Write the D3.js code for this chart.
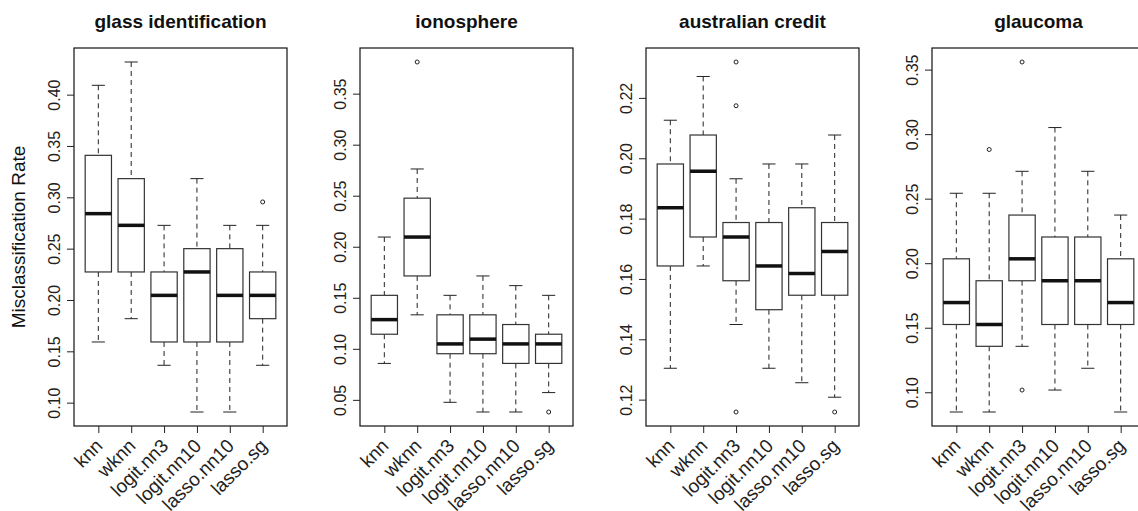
<!DOCTYPE html>
<html>
<head>
<meta charset="utf-8">
<script src="https://cdn.jsdelivr.net/npm/d3@7"></script>
<style>
  body { margin: 0; background: #fff; }
  svg { display: block; font-family: "Liberation Sans", Arial, sans-serif; }
</style>
</head>
<body>
<div id="chart"></div>
<script>
var svgWidth = 1138;
var svgHeight = 511;

var methods = ["knn", "wknn", "logit.nn3", "logit.nn10", "lasso.nn10", "lasso.sg"];
var titles = ["glass identification", "ionosphere", "australian credit", "glaucoma"];

// box stats per method: [whisker low, q1, median, q3, whisker high]
var glassStats = [
  [0.1591, 0.2273, 0.2841, 0.3409, 0.4091],
  [0.1818, 0.2273, 0.2727, 0.3182, 0.4318],
  [0.1364, 0.1591, 0.2045, 0.2273, 0.2727],
  [0.0909, 0.1591, 0.2273, 0.2500, 0.3182],
  [0.0909, 0.1591, 0.2045, 0.2500, 0.2727],
  [0.1364, 0.1818, 0.2045, 0.2273, 0.2727]
];
var glassOut = [[], [], [], [], [], [0.2955]];

var ionoStats = [
  [0.0857, 0.1143, 0.1286, 0.1524, 0.2095],
  [0.1333, 0.1714, 0.2095, 0.2476, 0.2762],
  [0.0476, 0.0952, 0.1048, 0.1333, 0.1524],
  [0.0381, 0.0952, 0.1095, 0.1333, 0.1714],
  [0.0381, 0.0857, 0.1048, 0.1238, 0.1619],
  [0.0571, 0.0857, 0.1048, 0.1143, 0.1524]
];
var ionoOut = [[], [0.3810], [], [], [], [0.0381]];

var creditStats = [
  [0.1304, 0.1643, 0.1836, 0.1981, 0.2126],
  [0.1643, 0.1739, 0.1957, 0.2077, 0.2271],
  [0.1449, 0.1594, 0.1739, 0.1787, 0.1932],
  [0.1304, 0.1498, 0.1643, 0.1787, 0.1981],
  [0.1256, 0.1546, 0.1618, 0.1836, 0.1981],
  [0.1208, 0.1546, 0.1691, 0.1787, 0.2077]
];
var creditOut = [[], [], [0.2319, 0.2174, 0.1159], [], [], [0.1159]];

var glaucomaStats = [
  [0.0847, 0.1525, 0.1695, 0.2034, 0.2542],
  [0.0847, 0.1356, 0.1525, 0.1864, 0.2542],
  [0.1356, 0.1864, 0.2034, 0.2373, 0.2712],
  [0.1017, 0.1525, 0.1864, 0.2203, 0.3051],
  [0.1186, 0.1525, 0.1864, 0.2203, 0.2712],
  [0.0847, 0.1525, 0.1695, 0.2034, 0.2373]
];
var glaucomaOut = [[], [0.2881], [0.3559, 0.1017], [], [], []];

var yTicks = [
  [0.10, 0.15, 0.20, 0.25, 0.30, 0.35, 0.40],
  [0.05, 0.10, 0.15, 0.20, 0.25, 0.30, 0.35],
  [0.12, 0.14, 0.16, 0.18, 0.20, 0.22],
  [0.10, 0.15, 0.20, 0.25, 0.30, 0.35]
];

var allStats = [glassStats, ionoStats, creditStats, glaucomaStats];
var allOut = [glassOut, ionoOut, creditOut, glaucomaOut];

var plotTop = 48;
var plotBottom = 426;
var plotWidth = 213;
var firstLeft = 74;
var panelStep = 286;

var svg = d3.select("#chart")
  .append("svg")
  .attr("width", svgWidth)
  .attr("height", svgHeight);

svg.append("text")
  .attr("transform", `translate(25, ${(plotTop + plotBottom) / 2}) rotate(-90)`)
  .attr("text-anchor", "middle")
  .style("font-size", "19px")
  .style("fill", "#111")
  .text("Misclassification Rate");

titles.forEach(function (title, p) {
  var stats = allStats[p];
  var outs = allOut[p];

  var g = svg.append("g")
    .attr("transform", `translate(${firstLeft + p * panelStep}, 0)`);

  // R style range: data range widened by 4%
  var lo = d3.min(stats, d => d[0]);
  var hi = d3.max(stats, d => d[4]);
  outs.forEach(o => o.forEach(v => { lo = Math.min(lo, v); hi = Math.max(hi, v); }));
  var pad = (hi - lo) * 0.04;

  var xScale = d3.scaleLinear().domain([0.26, 6.74]).range([0, plotWidth]);
  var yScale = d3.scaleLinear().domain([lo - pad, hi + pad]).range([plotBottom, plotTop]);

  var boxW = xScale(0.8) - xScale(0);

  g.append("text")
    .attr("x", plotWidth / 2)
    .attr("y", 28)
    .attr("text-anchor", "middle")
    .style("font-size", "19px")
    .style("font-weight", "bold")
    .style("fill", "#111")
    .text(title);

  var boxes = g.selectAll(".box")
    .data(stats)
    .enter()
    .append("g")
    .attr("class", "box")
    .attr("transform", (d, i) => `translate(${xScale(i + 1)}, 0)`);

  // whiskers
  boxes.append("line")
    .attr("y1", d => yScale(d[4])).attr("y2", d => yScale(d[3]))
    .attr("stroke", "#222").attr("stroke-dasharray", "5,4");
  boxes.append("line")
    .attr("y1", d => yScale(d[1])).attr("y2", d => yScale(d[0]))
    .attr("stroke", "#222").attr("stroke-dasharray", "5,4");

  // staples
  boxes.append("line")
    .attr("x1", -boxW / 4).attr("x2", boxW / 4)
    .attr("y1", d => yScale(d[4])).attr("y2", d => yScale(d[4]))
    .attr("stroke", "#222");
  boxes.append("line")
    .attr("x1", -boxW / 4).attr("x2", boxW / 4)
    .attr("y1", d => yScale(d[0])).attr("y2", d => yScale(d[0]))
    .attr("stroke", "#222");

  boxes.append("rect")
    .attr("x", -boxW / 2)
    .attr("width", boxW)
    .attr("y", d => yScale(d[3]))
    .attr("height", d => yScale(d[1]) - yScale(d[3]))
    .attr("fill", "white")
    .attr("stroke", "#333")
    .attr("stroke-width", 1.2);

  boxes.append("line")
    .attr("x1", -boxW / 2).attr("x2", boxW / 2)
    .attr("y1", d => yScale(d[2])).attr("y2", d => yScale(d[2]))
    .attr("stroke", "#111")
    .attr("stroke-width", 3.5);

  boxes.each(function (d, i) {
    d3.select(this).selectAll("circle")
      .data(outs[i])
      .enter()
      .append("circle")
      .attr("cy", v => yScale(v))
      .attr("r", 2)
      .attr("fill", "none")
      .attr("stroke", "#222")
      .attr("stroke-width", 1);
  });

  // frame
  g.append("rect")
    .attr("x", 0).attr("y", plotTop)
    .attr("width", plotWidth).attr("height", plotBottom - plotTop)
    .attr("fill", "none")
    .attr("stroke", "#111")
    .attr("stroke-width", 1.2);

  var leftAxis = d3.axisLeft(yScale)
    .tickValues(yTicks[p])
    .tickSize(7)
    .tickFormat(d3.format(".2f"));

  var yAxis = g.append("g").call(leftAxis);
  yAxis.select(".domain").remove();
  yAxis.selectAll("line").attr("stroke", "#222");
  yAxis.selectAll("text")
    .attr("x", 0).attr("y", 0).attr("dy", 0)
    .attr("transform", "translate(-14, 0) rotate(-90)")
    .attr("text-anchor", "middle")
    .style("font-size", "16px")
    .style("font-family", "Liberation Sans, Arial, sans-serif")
    .style("fill", "#222");

  var bottomAxis = d3.axisBottom(xScale)
    .tickValues([1, 2, 3, 4, 5, 6])
    .tickSize(7)
    .tickFormat(i => methods[i - 1]);

  var xAxis = g.append("g")
    .attr("transform", `translate(0, ${plotBottom})`)
    .call(bottomAxis);
  xAxis.select(".domain").remove();
  xAxis.selectAll("line").attr("stroke", "#222");
  xAxis.selectAll("text")
    .attr("x", 0).attr("y", 0).attr("dy", 0)
    .attr("transform", "translate(5, 21) rotate(-45)")
    .attr("text-anchor", "end")
    .style("font-size", "19px")
    .style("font-family", "Liberation Sans, Arial, sans-serif")
    .style("fill", "#222");
});
</script>
</body>
</html>
